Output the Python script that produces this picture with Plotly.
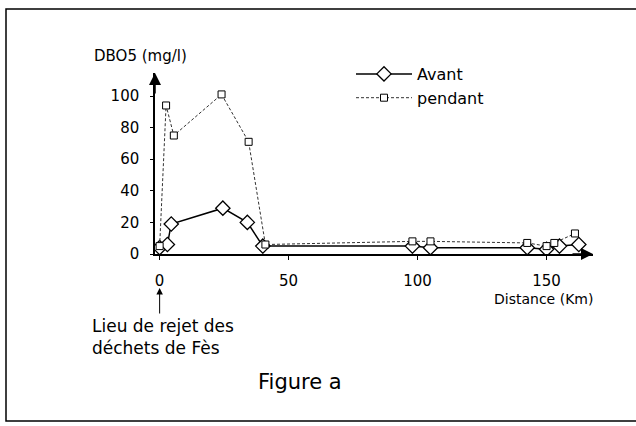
import plotly.graph_objects as go

# ---- data ----
avant_x = [0, 3, 4.5, 24.5, 34, 40, 98, 105, 142.5, 150, 155, 162.5]
avant_y = [4, 6, 19, 29, 20, 5, 5, 4, 4, 3, 5, 6]
pendant_x = [0, 2.5, 5.5, 24, 34.5, 41, 98, 105, 142.5, 150, 153, 161]
pendant_y = [5, 94, 75, 101, 71, 6, 8, 8, 7, 5, 7, 13]
x_ticks = [0, 50, 100, 150]
y_ticks = [0, 20, 40, 60, 80, 100]

W, H = 636, 426
L, R, T, B = 155, 593, 73, 254   # plot area in pixels

def X(px):
    return (px - L) / (R - L)

def Y(py):
    return (B - py) / (B - T)

FONT = "DejaVu Sans"

fig = go.Figure()
fig.add_trace(go.Scatter(
    x=avant_x, y=avant_y, name="Avant", mode="lines+markers",
    line=dict(color="black", width=1.5),
    marker=dict(symbol="diamond", size=11, color="white",
                line=dict(color="black", width=1.3)),
))
fig.add_trace(go.Scatter(
    x=pendant_x, y=pendant_y, name="pendant", mode="lines+markers",
    line=dict(color="#333333", width=1, dash="3px,2px"),
    marker=dict(symbol="square", size=7, color="white",
                line=dict(color="black", width=1)),
))

fig.update_layout(
    width=W, height=H,
    margin=dict(l=L, r=W - R, t=T, b=H - B, pad=0),
    paper_bgcolor="white", plot_bgcolor="white",
    font=dict(family=FONT, color="black", size=15),
    showlegend=True,
    legend=dict(x=X(351), y=Y(57), xanchor="left", yanchor="top",
                bgcolor="rgba(0,0,0,0)", itemwidth=56,
                font=dict(family=FONT, size=16, color="black"),
                tracegroupgap=0),
)
fig.update_xaxes(
    range=[-1.8, 168], showgrid=False, zeroline=False,
    showline=True, linecolor="black", linewidth=1.5,
    tickvals=x_ticks, ticktext=[str(v) for v in x_ticks],
    ticks="outside", ticklen=4, tickcolor="black",
    ticklabelstandoff=8,
    tickfont=dict(family=FONT, size=15, color="black"),
)
fig.update_yaxes(
    range=[0, (B - T) / 1.58], showgrid=False, zeroline=False,
    showline=True, linecolor="black", linewidth=1.5,
    tickvals=y_ticks, ticktext=[str(v) for v in y_ticks],
    ticks="outside", ticklen=3, tickcolor="black",
    ticklabelstandoff=8,
    tickfont=dict(family=FONT, size=15, color="black"),
)

ann = []
# axis arrowheads
ann.append(dict(xref="paper", yref="paper", x=0, y=1, ax=0, ay=22,
                showarrow=True, arrowhead=2, arrowsize=1.6, arrowwidth=1.5,
                arrowcolor="black", text=""))
ann.append(dict(xref="paper", yref="paper", x=1, y=0, ax=-22, ay=0,
                showarrow=True, arrowhead=2, arrowsize=1.6, arrowwidth=1.5,
                arrowcolor="black", text=""))
# axis titles
ann.append(dict(xref="paper", yref="paper", x=X(140), y=Y(56),
                xanchor="center", yanchor="middle",
                text="DBO5 (mg/l)", showarrow=False,
                font=dict(family=FONT, size=15)))
ann.append(dict(xref="paper", yref="paper", x=X(595), y=Y(299),
                xanchor="right", yanchor="middle",
                text="Distance (Km)", showarrow=False,
                font=dict(family=FONT, size=14)))
# discharge point annotation
ann.append(dict(xref="x", yref="paper", x=0, y=Y(288), ax=0, ay=27,
                showarrow=True, arrowhead=2, arrowsize=1.3, arrowwidth=1,
                arrowcolor="black", text=""))
ann.append(dict(xref="paper", yref="paper", x=X(90), y=Y(337),
                xanchor="left", yanchor="middle", align="left",
                showarrow=False,
                text="Lieu de rejet des<br>déchets de Fès",
                font=dict(family=FONT, size=17)))
ann.append(dict(xref="paper", yref="paper", x=X(300), y=Y(382),
                xanchor="center", yanchor="middle",
                text="Figure a", showarrow=False,
                font=dict(family=FONT, size=21)))
fig.update_layout(annotations=ann)

# frame around the figure
fig.add_shape(type="rect", xref="paper", yref="paper",
              x0=X(6), x1=X(660), y0=Y(421), y1=Y(9),
              line=dict(color="black", width=1.5), layer="below")

fig.write_html("out.html",
               config={"displayModeBar": False},
               post_script="document.body.style.margin='0';")
